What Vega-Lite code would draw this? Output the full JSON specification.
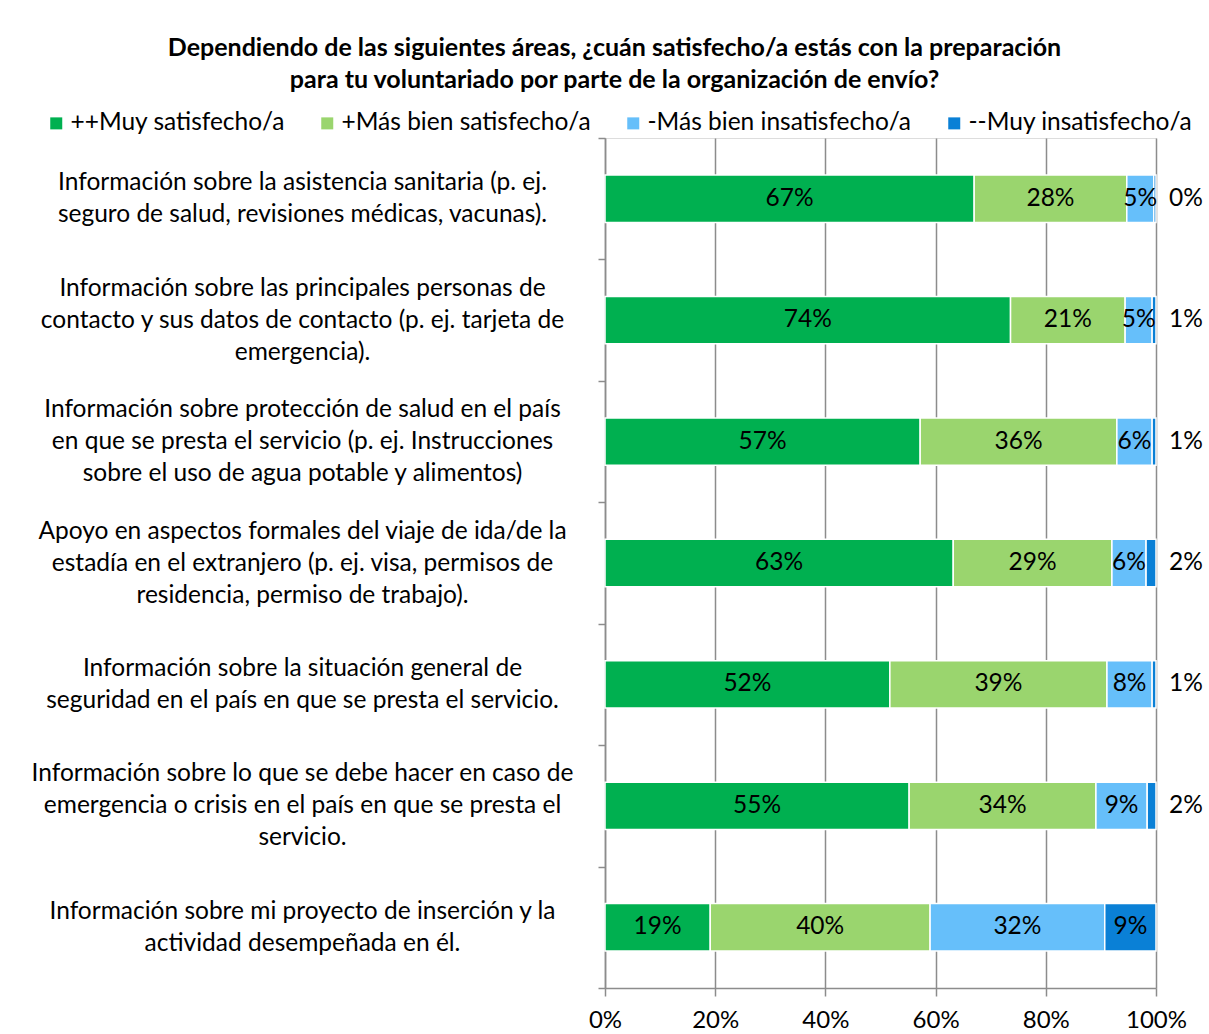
{
  "$schema": "https://vega.github.io/schema/vega-lite/v6.json",
  "width": 551,
  "height": 850,
  "autosize": {"type": "none"},
  "padding": {"left": 605, "top": 138, "right": 53, "bottom": 46},
  "background": "white",
  "title": {
    "text": ["Dependiendo de las siguientes áreas, ¿cuán satisfecho/a estás con la preparación", "para tu voluntariado por parte de la organización de envío?"],
    "font": "Lato",
    "fontSize": 25,
    "fontWeight": "bold",
    "color": "#000000",
    "lineHeight": 32,
    "anchor": "middle",
    "frame": "group",
    "dx": -266,
    "offset": 18
  },
  "data": {
    "values": [
      {"area": "Información sobre la asistencia sanitaria (p. ej.|seguro de salud, revisiones médicas, vacunas).", "cat": "++Muy satisfecho/a", "k": 1, "value": 0.670},
      {"area": "Información sobre la asistencia sanitaria (p. ej.|seguro de salud, revisiones médicas, vacunas).", "cat": "+Más bien satisfecho/a", "k": 2, "value": 0.277},
      {"area": "Información sobre la asistencia sanitaria (p. ej.|seguro de salud, revisiones médicas, vacunas).", "cat": "-Más bien insatisfecho/a", "k": 3, "value": 0.049},
      {"area": "Información sobre la asistencia sanitaria (p. ej.|seguro de salud, revisiones médicas, vacunas).", "cat": "--Muy insatisfecho/a", "k": 4, "value": 0.004},
      {"area": "Información sobre las principales personas de|contacto y sus datos de contacto (p. ej. tarjeta de|emergencia).", "cat": "++Muy satisfecho/a", "k": 1, "value": 0.736},
      {"area": "Información sobre las principales personas de|contacto y sus datos de contacto (p. ej. tarjeta de|emergencia).", "cat": "+Más bien satisfecho/a", "k": 2, "value": 0.208},
      {"area": "Información sobre las principales personas de|contacto y sus datos de contacto (p. ej. tarjeta de|emergencia).", "cat": "-Más bien insatisfecho/a", "k": 3, "value": 0.049},
      {"area": "Información sobre las principales personas de|contacto y sus datos de contacto (p. ej. tarjeta de|emergencia).", "cat": "--Muy insatisfecho/a", "k": 4, "value": 0.007},
      {"area": "Información sobre protección de salud en el país|en que se presta el servicio (p. ej. Instrucciones|sobre el uso de agua potable y alimentos)", "cat": "++Muy satisfecho/a", "k": 1, "value": 0.572},
      {"area": "Información sobre protección de salud en el país|en que se presta el servicio (p. ej. Instrucciones|sobre el uso de agua potable y alimentos)", "cat": "+Más bien satisfecho/a", "k": 2, "value": 0.357},
      {"area": "Información sobre protección de salud en el país|en que se presta el servicio (p. ej. Instrucciones|sobre el uso de agua potable y alimentos)", "cat": "-Más bien insatisfecho/a", "k": 3, "value": 0.064},
      {"area": "Información sobre protección de salud en el país|en que se presta el servicio (p. ej. Instrucciones|sobre el uso de agua potable y alimentos)", "cat": "--Muy insatisfecho/a", "k": 4, "value": 0.007},
      {"area": "Apoyo en aspectos formales del viaje de ida/de la|estadía en el extranjero (p. ej. visa, permisos de|residencia, permiso de trabajo).", "cat": "++Muy satisfecho/a", "k": 1, "value": 0.632},
      {"area": "Apoyo en aspectos formales del viaje de ida/de la|estadía en el extranjero (p. ej. visa, permisos de|residencia, permiso de trabajo).", "cat": "+Más bien satisfecho/a", "k": 2, "value": 0.288},
      {"area": "Apoyo en aspectos formales del viaje de ida/de la|estadía en el extranjero (p. ej. visa, permisos de|residencia, permiso de trabajo).", "cat": "-Más bien insatisfecho/a", "k": 3, "value": 0.062},
      {"area": "Apoyo en aspectos formales del viaje de ida/de la|estadía en el extranjero (p. ej. visa, permisos de|residencia, permiso de trabajo).", "cat": "--Muy insatisfecho/a", "k": 4, "value": 0.018},
      {"area": "Información sobre la situación general de|seguridad en el país en que se presta el servicio.", "cat": "++Muy satisfecho/a", "k": 1, "value": 0.517},
      {"area": "Información sobre la situación general de|seguridad en el país en que se presta el servicio.", "cat": "+Más bien satisfecho/a", "k": 2, "value": 0.394},
      {"area": "Información sobre la situación general de|seguridad en el país en que se presta el servicio.", "cat": "-Más bien insatisfecho/a", "k": 3, "value": 0.082},
      {"area": "Información sobre la situación general de|seguridad en el país en que se presta el servicio.", "cat": "--Muy insatisfecho/a", "k": 4, "value": 0.007},
      {"area": "Información sobre lo que se debe hacer en caso de|emergencia o crisis en el país en que se presta el|servicio.", "cat": "++Muy satisfecho/a", "k": 1, "value": 0.552},
      {"area": "Información sobre lo que se debe hacer en caso de|emergencia o crisis en el país en que se presta el|servicio.", "cat": "+Más bien satisfecho/a", "k": 2, "value": 0.339},
      {"area": "Información sobre lo que se debe hacer en caso de|emergencia o crisis en el país en que se presta el|servicio.", "cat": "-Más bien insatisfecho/a", "k": 3, "value": 0.093},
      {"area": "Información sobre lo que se debe hacer en caso de|emergencia o crisis en el país en que se presta el|servicio.", "cat": "--Muy insatisfecho/a", "k": 4, "value": 0.016},
      {"area": "Información sobre mi proyecto de inserción y la|actividad desempeñada en él.", "cat": "++Muy satisfecho/a", "k": 1, "value": 0.191},
      {"area": "Información sobre mi proyecto de inserción y la|actividad desempeñada en él.", "cat": "+Más bien satisfecho/a", "k": 2, "value": 0.399},
      {"area": "Información sobre mi proyecto de inserción y la|actividad desempeñada en él.", "cat": "-Más bien insatisfecho/a", "k": 3, "value": 0.317},
      {"area": "Información sobre mi proyecto de inserción y la|actividad desempeñada en él.", "cat": "--Muy insatisfecho/a", "k": 4, "value": 0.093}
    ]
  },
  "transform": [
    {"stack": "value", "groupby": ["area"], "sort": [{"field": "k", "order": "ascending"}], "as": ["x0", "x1"]},
    {"calculate": "(datum.x0 + datum.x1) / 2", "as": "mid"}
  ],
  "encoding": {
    "y": {
      "field": "area",
      "type": "nominal",
      "sort": null,
      "title": null,
      "scale": {"paddingInner": 0, "paddingOuter": 0},
      "axis": {
        "labelExpr": "split(datum.label, '|')",
        "labelFont": "Lato",
        "labelFontSize": 24.5,
        "labelColor": "#000000",
        "labelLineHeight": 32,
        "labelAlign": "center",
        "labelBaseline": "middle",
        "labelOffset": {"expr": "(1 - length(split(datum.value, '|'))) * 16"},
        "labelPadding": 296,
        "labelLimit": 700,
        "tickBand": "extent",
        "tickSize": 7,
        "tickColor": "#8c8c8c",
        "tickWidth": 1.5,
        "domainColor": "#8c8c8c",
        "domainWidth": 1.5,
        "grid": false
      }
    }
  },
  "layer": [
    {
      "mark": {"type": "bar", "height": {"band": 0.39}, "stroke": "white", "strokeWidth": 1.5},
      "encoding": {
        "x": {
          "field": "x0",
          "type": "quantitative",
          "scale": {"domain": [0, 1], "nice": false},
          "title": null,
          "axis": {
            "values": [0, 0.2, 0.4, 0.6, 0.8, 1],
            "format": ".0%",
            "labelFont": "Lato",
            "labelFontSize": 24,
            "labelColor": "#000000",
            "labelPadding": 12,
            "tickSize": 8,
            "tickColor": "#8c8c8c",
            "tickWidth": 1.5,
            "domainColor": "#8c8c8c",
            "domainWidth": 1.5,
            "grid": true,
            "gridColor": "#8c8c8c",
            "gridWidth": 1.5,
            "labelFlush": false
          }
        },
        "x2": {"field": "x1"},
        "color": {
          "field": "cat",
          "type": "nominal",
          "scale": {
            "domain": ["++Muy satisfecho/a", "+Más bien satisfecho/a", "-Más bien insatisfecho/a", "--Muy insatisfecho/a"],
            "range": ["#00b050", "#9ad56e", "#66bffa", "#0a80d6"]
          },
          "legend": {
            "title": null,
            "orient": "none",
            "legendX": -561,
            "legendY": -27,
            "direction": "horizontal",
            "columns": 4,
            "columnPadding": 30,
            "symbolType": "square",
            "symbolSize": 144,
            "symbolStrokeWidth": 0,
            "labelFont": "Lato",
            "labelFontSize": 24.5,
            "labelColor": "#000000",
            "labelOffset": 2,
            "labelLimit": 400
          }
        }
      }
    },
    {
      "transform": [{"filter": "datum.k < 4 || datum.value >= 0.05"}],
      "mark": {"type": "text", "font": "Lato", "fontSize": 24.5, "color": "#000000", "align": "center", "baseline": "middle"},
      "encoding": {
        "x": {"field": "mid", "type": "quantitative"},
        "text": {"field": "value", "type": "quantitative", "format": ".0%"}
      }
    },
    {
      "transform": [{"filter": "datum.k == 4 && datum.value < 0.05"}],
      "mark": {"type": "text", "font": "Lato", "fontSize": 24.5, "color": "#000000", "align": "center", "baseline": "middle", "dx": 30},
      "encoding": {
        "x": {"field": "x1", "type": "quantitative"},
        "text": {"field": "value", "type": "quantitative", "format": ".0%"}
      }
    }
  ]
}
